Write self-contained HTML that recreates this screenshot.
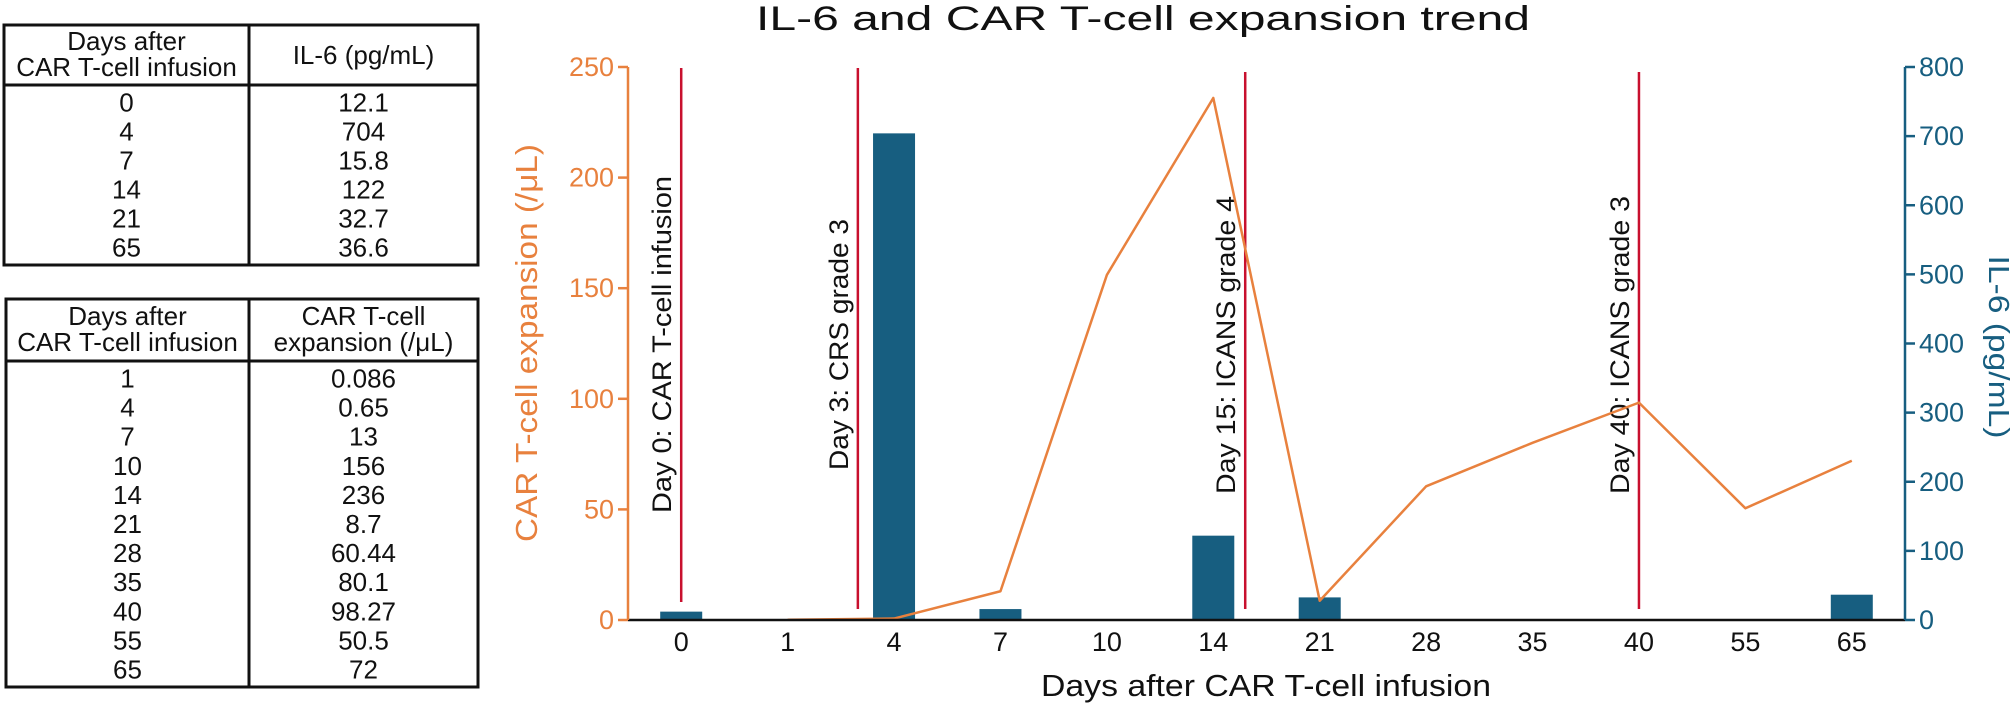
<!DOCTYPE html>
<html><head><meta charset="utf-8"><style>
html,body{margin:0;padding:0;background:#fff;}
body{width:2016px;height:708px;overflow:hidden;position:relative;font-family:"Liberation Sans",sans-serif;}
svg{position:absolute;left:0;top:0;}
</style></head><body>
<svg id="chart" width="2016" height="708" viewBox="0 0 2016 708"></svg>
<script>
const NS='http://www.w3.org/2000/svg';
// ---- data ----
const categories=['0','1','4','7','10','14','21','28','35','40','55','65'];
const il6Days=['0','4','7','14','21','65'];
const il6Values=[12.1,704,15.8,122,32.7,36.6];
const carDays=['1','4','7','10','14','21','28','35','40','55','65'];
const carValues=[0.086,0.65,13,156,236,8.7,60.44,80.1,98.27,50.5,72];
const leftTicks=[0,50,100,150,200,250];
const rightTicks=[0,100,200,300,400,500,600,700,800];
const eventLabels=['Day 0: CAR T-cell infusion','Day 3: CRS grade 3','Day 15: ICANS grade 4','Day 40: ICANS grade 3'];
const eventPos=[0,1.66,5.3,9];
const il6Table=[['0','12.1'],['4','704'],['7','15.8'],['14','122'],['21','32.7'],['65','36.6']];
const carTable=[['1','0.086'],['4','0.65'],['7','13'],['10','156'],['14','236'],['21','8.7'],['28','60.44'],['35','80.1'],['40','98.27'],['55','50.5'],['65','72']];

const svg=document.getElementById('chart');
const ORANGE='#e8813e',BLUE='#175e80',RED='#c8102e';
function el(tag,attrs,parent){const e=document.createElementNS(NS,tag);for(const k in attrs)e.setAttribute(k,attrs[k]);(parent||svg).appendChild(e);return e;}
function txt(s,attrs,parent){const t=el('text',attrs,parent);t.textContent=s;return t;}

const X0=628,X1=1905,Y0=620,Y1=67;
const band=(X1-X0)/categories.length;
function xIdx(i){return X0+band*(i+0.5);}
function xCat(c){return xIdx(categories.indexOf(c));}
function yL(v){return Y0-(v/250)*(Y0-Y1);}
function yR(v){return Y0-(v/800)*(Y0-Y1);}

let t=txt('IL-6 and CAR T-cell expansion trend',{x:1143,y:30,'font-size':34,'text-anchor':'middle',fill:'#111',textLength:774,lengthAdjust:'spacingAndGlyphs'});



il6Values.forEach((v,i)=>{
  const cx=xCat(il6Days[i]);const w=42;
  const r=el('rect',{x:cx-w/2,y:yR(v),width:w,height:Y0-yR(v),fill:BLUE});
  
  
});

const labLen=[337,251,298,298];
const labEnd=[513,470,494,494];
eventLabels.forEach((lab,i)=>{
  const x=xIdx(eventPos[i]);
  const l=el('line',{x1:x,x2:x,y1:i<2?68:72,y2:i==0?602:609,stroke:RED,'stroke-width':2.5});
  
  
  const yEnd=labEnd[i];
  const tx=x-10;
  const tt=txt(lab,{x:tx,y:yEnd,'font-size':27,fill:'#111','text-anchor':'start',textLength:labLen[i],lengthAdjust:'spacingAndGlyphs',transform:`rotate(-90 ${tx} ${yEnd})`});
  
  
});

const pts=carValues.map((v,i)=>xCat(carDays[i])+','+yL(v)).join(' ');
const pl=el('polyline',{points:pts,fill:'none',stroke:ORANGE,'stroke-width':2.5,'stroke-linejoin':'round'});



const xa=el('line',{x1:X0,x2:X1,y1:Y0,y2:Y0,stroke:'#111','stroke-width':2.5});


categories.forEach((c,i)=>{
  const tl=txt(c,{x:xIdx(i),y:651,'font-size':27,'text-anchor':'middle',fill:'#111'});
  
  
});
t=txt('Days after CAR T-cell infusion',{x:1266,y:696,'font-size':31,'text-anchor':'middle',fill:'#111',textLength:450,lengthAdjust:'spacingAndGlyphs'});



const la=el('line',{x1:X0,x2:X0,y1:Y1,y2:Y0,stroke:ORANGE,'stroke-width':2.5});


leftTicks.forEach(v=>{
  el('line',{x1:X0-10,x2:X0,y1:yL(v),y2:yL(v),stroke:ORANGE,'stroke-width':2.5});
  const tl=txt(String(v),{x:X0-14,y:yL(v)+9,'font-size':27,'text-anchor':'end',fill:ORANGE});
  
  
});
t=txt('CAR T-cell expansion (/μL)',{x:537,y:343,'font-size':31,'text-anchor':'middle',fill:ORANGE,textLength:398,lengthAdjust:'spacingAndGlyphs',transform:'rotate(-90 537 343)'});



const ra=el('line',{x1:X1,x2:X1,y1:Y1,y2:Y0,stroke:BLUE,'stroke-width':2.5});


rightTicks.forEach(v=>{
  el('line',{x1:X1,x2:X1+10,y1:yR(v),y2:yR(v),stroke:BLUE,'stroke-width':2.5});
  const tl=txt(String(v),{x:X1+14,y:yR(v)+9,'font-size':27,'text-anchor':'start',fill:BLUE});
  
  
});
t=txt('IL-6 (pg/mL)',{x:1989,y:347,'font-size':29,'text-anchor':'middle',fill:BLUE,textLength:183,lengthAdjust:'spacingAndGlyphs',transform:'rotate(90 1989 347)'});



function table(name,x0,xd,x1,top,hb,bottom,h1,h2,rows){
  const g=el('g',{});
  
  
  el('rect',{x:x0,y:top,width:x1-x0,height:bottom-top,fill:'none',stroke:'#111','stroke-width':3},g);
  el('line',{x1:x0,x2:x1,y1:hb,y2:hb,stroke:'#111','stroke-width':3},g);
  el('line',{x1:xd,x2:xd,y1:top,y2:bottom,stroke:'#111','stroke-width':3},g);
  const c1=(x0+xd)/2,c2=(xd+x1)/2;
  const hm=(top+hb)/2;
  const fs=26;
  txt('Days after',{x:c1,y:hm-5,'font-size':fs,'text-anchor':'middle',fill:'#111'},g);
  txt('CAR T-cell infusion',{x:c1,y:hm+21,'font-size':fs,'text-anchor':'middle',fill:'#111'},g);
  if(h2){txt(h1,{x:c2,y:hm-5,'font-size':fs,'text-anchor':'middle',fill:'#111'},g);txt(h2,{x:c2,y:hm+21,'font-size':fs,'text-anchor':'middle',fill:'#111'},g);}
  else txt(h1,{x:c2,y:hm+9,'font-size':fs,'text-anchor':'middle',fill:'#111'},g);
  const rh=(bottom-hb-6)/rows.length;
  rows.forEach((r,i)=>{
    const y=hb+3+rh*(i+0.5)+9;
    txt(r[0],{x:c1,y:y,'font-size':fs,'text-anchor':'middle',fill:'#111'},g);
    txt(r[1],{x:c2,y:y,'font-size':fs,'text-anchor':'middle',fill:'#111'},g);
  });
}
table('il6-table',4,249,478,25,85,265,'IL-6 (pg/mL)',null,il6Table);
table('car-t-expansion-table',6,249,478,299,361,687,'CAR T-cell','expansion (/μL)',carTable);
</script>
</body></html>
